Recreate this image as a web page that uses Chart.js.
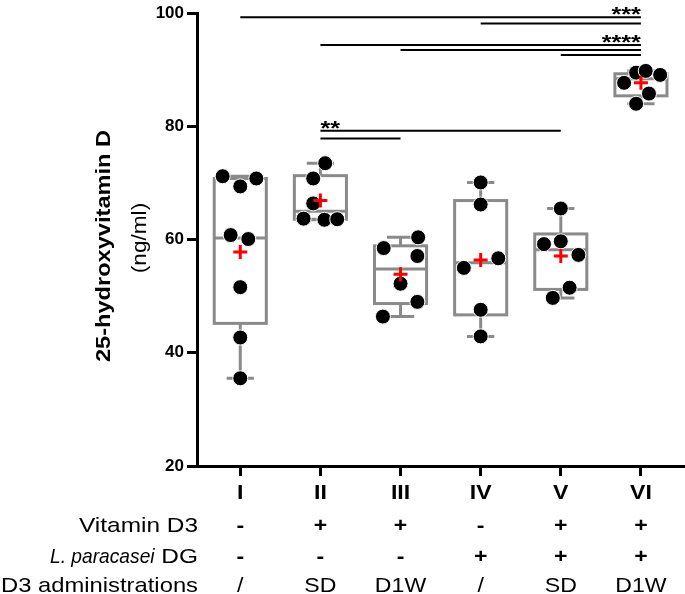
<!DOCTYPE html>
<html>
<head>
<meta charset="utf-8">
<script src="https://cdn.jsdelivr.net/npm/chart.js@4.4.1/dist/chart.umd.min.js"></script>
<style>
  body { margin: 0; background: #fff; }
  canvas { display: block; }
</style>
</head>
<body>
<canvas id="grafico" width="685" height="594"></canvas>
<script>
// grupos e linhas da tabela abaixo do eixo
const groups = ['I', 'II', 'III', 'IV', 'V', 'VI'];
const vitaminD3 = ['-', '+', '+', '-', '+', '+'];
const paracasei = ['-', '-', '-', '+', '+', '+'];
const administrations = ['/', 'SD', 'D1W', '/', 'SD', 'D1W'];

// valores individuais (ng/ml) e deslocamento horizontal de cada ponto
const values = [
    [71.2, 69.4, 70.8, 60.8, 60.1, 51.6, 42.7, 35.5],
    [73.5, 70.8, 66.4, 63.7, 63.5, 63.6],
    [60.4, 58.5, 57.1, 52.2, 49.0, 46.4],
    [70.1, 66.2, 55.0, 56.7, 47.6, 42.9],
    [65.5, 59.2, 59.7, 57.3, 51.5, 49.7],
    [87.7, 89.5, 89.8, 89.1, 85.8, 84.0]
];
const jitter = [
    [-0.22, 0, 0.2, -0.12, 0.1, 0, 0, 0],
    [0.06, -0.09, -0.09, -0.21, 0.05, 0.21],
    [0.22, -0.21, 0.21, 0, 0.21, -0.22],
    [0, 0, -0.21, 0.22, 0, 0],
    [0, -0.21, 0, 0.22, 0.11, -0.1],
    [-0.21, -0.06, 0.06, 0.24, 0.1, -0.06]
];

// caixas: mínimo, Q1, mediana, Q3, máximo e média
const mins = [35.5, 63.5, 46.4, 42.9, 49.7, 84.0];
const q1s = [45.2, 63.6, 48.7, 46.7, 51.2, 85.4];
const medians = [60.3, 65.0, 54.8, 55.9, 58.2, 88.4];
const q3s = [70.8, 71.3, 58.9, 66.9, 61.0, 89.3];
const maxs = [71.2, 73.5, 60.4, 70.1, 65.5, 89.8];
const means = [57.8, 66.9, 53.9, 56.4, 57.1, 87.7];

// comparações significativas (grupo inicial, grupo final)
const comparisons = [[0, 5], [3, 5], [1, 5], [2, 5], [4, 5], [1, 4], [1, 2]];
const comparisonY = [99.3, 98.2, 94.4, 93.5, 92.6, 79.25, 77.85];
const stars = ['***', '', '****', '', '', '**', ''];
const starAlign = ['right', '', 'right', '', '', 'left', ''];

const FONT = 'Liberation Sans, Arial, sans-serif';
const GRAY = '#8a8a8a';

// texto com esticamento horizontal, como na figura original
function drawText(ctx, text, x, y, font, align, sx) {
    ctx.save();
    ctx.translate(x, y);
    ctx.scale(sx, 1);
    ctx.font = font;
    ctx.textAlign = align;
    ctx.textBaseline = 'middle';
    ctx.fillStyle = '#000';
    ctx.fillText(text, 0, 0);
    ctx.restore();
}

function textWidth(ctx, text, font) {
    ctx.save();
    ctx.font = font;
    const w = ctx.measureText(text).width;
    ctx.restore();
    return w;
}

const boxPlugin = {
    id: 'boxes',
    beforeDatasetsDraw(chart) {
        const { ctx, scales: { x, y } } = chart;
        const unit = x.getPixelForValue(1) - x.getPixelForValue(0);
        const half = unit * 0.325;
        const cap = unit * 0.17;

        ctx.save();
        ctx.strokeStyle = GRAY;
        ctx.lineWidth = 3;
        groups.forEach((g, i) => {
            const cx = x.getPixelForValue(i);
            const top = y.getPixelForValue(q3s[i]);
            const bot = y.getPixelForValue(q1s[i]);
            const med = y.getPixelForValue(medians[i]);
            const yMax = y.getPixelForValue(maxs[i]);
            const yMin = y.getPixelForValue(mins[i]);

            ctx.strokeRect(cx - half, top, half * 2, bot - top);
            ctx.beginPath();
            ctx.moveTo(cx - half, med); ctx.lineTo(cx + half, med);
            ctx.moveTo(cx, top); ctx.lineTo(cx, yMax);
            ctx.moveTo(cx, bot); ctx.lineTo(cx, yMin);
            ctx.moveTo(cx - cap, yMax); ctx.lineTo(cx + cap, yMax);
            ctx.moveTo(cx - cap, yMin); ctx.lineTo(cx + cap, yMin);
            ctx.stroke();
        });
        ctx.restore();

        // linhas de significância
        ctx.save();
        ctx.strokeStyle = '#000';
        ctx.lineWidth = 2;
        comparisons.forEach((c, k) => {
            const x1 = x.getPixelForValue(c[0]);
            const x2 = x.getPixelForValue(c[1]);
            const py = y.getPixelForValue(comparisonY[k]);
            ctx.beginPath();
            ctx.moveTo(x1, py); ctx.lineTo(x2, py);
            ctx.stroke();
            if (stars[k]) {
                const ax = starAlign[k] === 'right' ? x2 : x1;
                ctx.save();
                ctx.translate(ax, py + 4);
                ctx.scale(1.2, 1);
                ctx.font = 'bold 21px ' + FONT;
                ctx.textAlign = starAlign[k];
                ctx.textBaseline = 'alphabetic';
                ctx.fillStyle = '#000';
                ctx.fillText(stars[k], 0, 0);
                ctx.restore();
            }
        });
        ctx.restore();
    },
    afterDraw(chart) {
        const { ctx, scales: { x } } = chart;

        // título do eixo y
        ctx.save();
        ctx.translate(104, 246);
        ctx.rotate(-Math.PI / 2);
        drawText(ctx, '25-hydroxyvitamin D', 0, 0, 'bold 20px ' + FONT, 'center', 1.18);
        ctx.restore();
        ctx.save();
        ctx.translate(140, 238);
        ctx.rotate(-Math.PI / 2);
        drawText(ctx, '(ng/ml)', 0, 0, '20px ' + FONT, 'center', 1.13);
        ctx.restore();

        // tabela sob o eixo x
        const rowY = [526, 557, 586];
        groups.forEach((g, i) => {
            const cx = x.getPixelForValue(i);
            drawText(ctx, g, cx, 493, 'bold 21px ' + FONT, 'center', 1.1);
            drawText(ctx, vitaminD3[i], cx, rowY[0], 'bold 21px ' + FONT, 'center', 1.1);
            drawText(ctx, paracasei[i], cx, rowY[1], 'bold 21px ' + FONT, 'center', 1.1);
            drawText(ctx, administrations[i], cx, rowY[2], '21px ' + FONT, 'center', 1.1);
        });

        // rótulos das linhas, ajustados à largura da figura original
        const right = 198;
        const f = '21px ' + FONT;
        const fi = 'italic 21px ' + FONT;
        const sxV = 119 / textWidth(ctx, 'Vitamin D3', f);
        drawText(ctx, 'Vitamin D3', right, rowY[0], f, 'right', sxV);

        const dgWidth = textWidth(ctx, ' DG', f) * sxV;
        drawText(ctx, ' DG', right, rowY[1], f, 'right', sxV);
        const sxI = (148 - dgWidth) / textWidth(ctx, 'L. paracasei', fi);
        drawText(ctx, 'L. paracasei', right - dgWidth, rowY[1], fi, 'right', sxI);

        const sxA = 197 / textWidth(ctx, 'D3 administrations', f);
        drawText(ctx, 'D3 administrations', right, rowY[2], f, 'right', sxA);
    }
};

new Chart(document.getElementById('grafico'), {
    type: 'scatter',
    data: {
        datasets: [{
            label: 'Média',
            data: means.map((m, i) => ({ x: i, y: m })),
            pointStyle: 'cross',
            pointRadius: 7,
            borderColor: '#ff0000',
            borderWidth: 3,
            order: 0
        }, {
            label: '25-hydroxyvitamin D',
            data: values.flatMap((g, i) => g.map((v, j) => ({ x: i + jitter[i][j], y: v }))),
            pointRadius: 7.5,
            backgroundColor: '#000',
            borderColor: '#fff',
            borderWidth: 1,
            order: 1
        }]
    },
    options: {
        responsive: false,
        animation: false,
        layout: { autoPadding: false, padding: { top: 11, left: 0, right: 0, bottom: 0 } },
        plugins: { legend: { display: false }, tooltip: { enabled: false } },
        scales: {
            x: {
                type: 'linear',
                min: -0.54,
                max: 5.55,
                afterFit: s => { s.height = 128; s.paddingLeft = 0; s.paddingRight = 0; },
                afterBuildTicks: s => { s.ticks = groups.map((g, i) => ({ value: i })); },
                ticks: { display: false },
                grid: { drawOnChartArea: false, tickLength: 10, tickWidth: 3, tickColor: '#000' },
                border: { color: '#000', width: 3 }
            },
            y: {
                min: 20,
                max: 100,
                afterFit: s => { s.width = 197; },
                ticks: { stepSize: 20, color: '#000', padding: 3, font: { family: FONT, size: 17, weight: 'bold' } },
                grid: { drawOnChartArea: false, tickLength: 10, tickWidth: 3, tickColor: '#000' },
                border: { color: '#000', width: 3 }
            }
        }
    },
    plugins: [boxPlugin]
});
</script>
</body>
</html>
